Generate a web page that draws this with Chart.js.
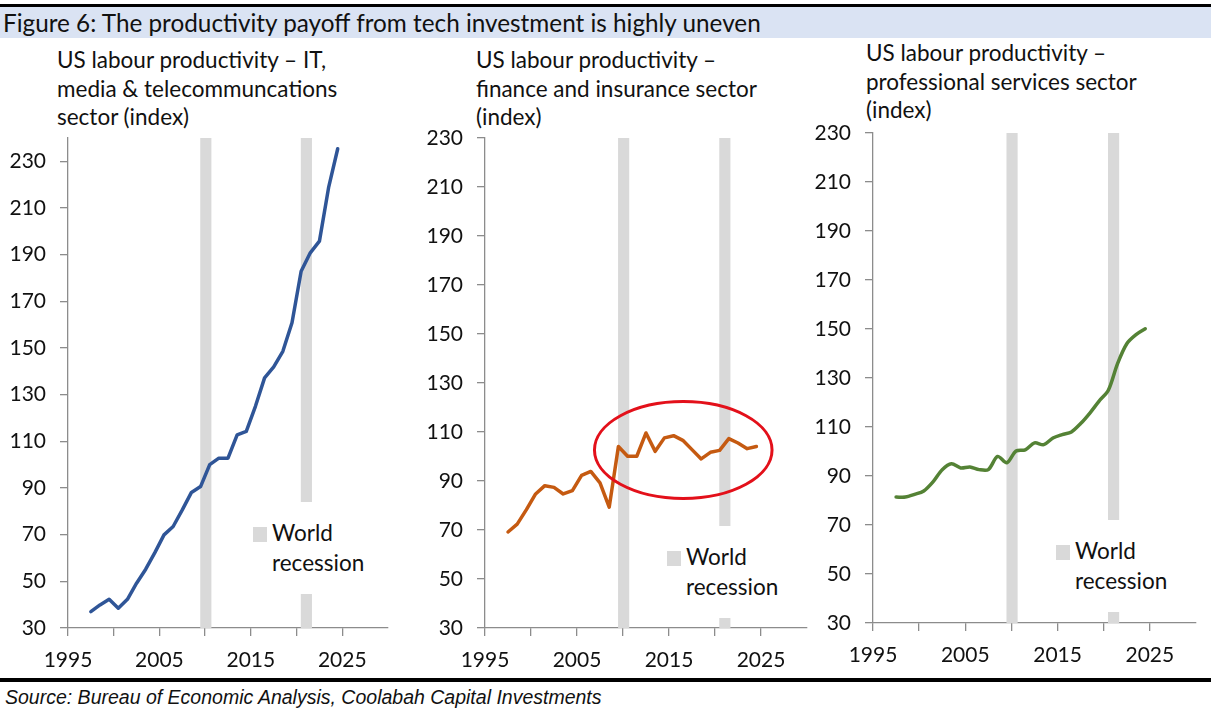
<!DOCTYPE html>
<html>
<head>
<meta charset="utf-8">
<script src="https://cdn.jsdelivr.net/npm/chart.js@4.4.1/dist/chart.umd.min.js"></script>
<style>
  body { margin: 0; width: 1211px; height: 713px; background: #fff; position: relative; overflow: hidden; font-family: Lato, sans-serif; color: #111; }
  .rule { position: absolute; left: 0; width: 1211px; background: #000; }
  .header { position: absolute; left: 0; top: 7px; width: 1208px; height: 31px; padding-left: 3px; background: #dae3f3; font-size: 24.3px; line-height: 31px; }
  .title { position: absolute; font-size: 22.5px; line-height: 28.5px; }
  .panel { position: absolute; }
  .legend { position: absolute; background: #fff; width: 133px; height: 92px; font-size: 22.5px; line-height: 30px; }
  .legend i { position: absolute; left: 8px; top: 25px; width: 14px; height: 15px; background: #d9d9d9; }
  .legend span { position: absolute; left: 27px; top: 16px; }
  .source { position: absolute; left: 5px; top: 686px; font-size: 19.5px; font-style: italic; font-family: "Liberation Sans", Arial, sans-serif; }
</style>
</head>
<body>

<div class="rule" style="top:4px;height:3px"></div>
<div class="header">Figure 6: The productivity payoff from tech investment is highly uneven</div>

<div class="title" style="left:57px;top:46px">US labour productivity – IT,<br>media &amp; telecommuncations<br>sector (index)</div>
<div class="title" style="left:476px;top:46px">US labour productivity –<br>finance and insurance sector<br>(index)</div>
<div class="title" style="left:866px;top:39px">US labour productivity –<br>professional services sector<br>(index)</div>

<div class="panel" style="left:0;top:130px"><canvas id="itChart" width="400" height="552"></canvas></div>
<div class="panel" style="left:410px;top:130px"><canvas id="finChart" width="400" height="552"></canvas></div>
<div class="panel" style="left:800px;top:125px"><canvas id="proChart" width="411" height="550"></canvas></div>

<div class="legend" style="left:245px;top:502px"><i></i><span>World<br>recession</span></div>
<div class="legend" style="left:659px;top:526px"><i></i><span>World<br>recession</span></div>
<div class="legend" style="left:1048px;top:520px"><i></i><span>World<br>recession</span></div>

<div class="rule" style="top:678px;height:4px"></div>
<div class="source">Source: Bureau of Economic Analysis, Coolabah Capital Investments</div>

<script>
// annual data, 1997-2024 (index)
var years = [1997, 1998, 1999, 2000, 2001, 2002, 2003, 2004, 2005, 2006, 2007, 2008, 2009, 2010,
             2011, 2012, 2013, 2014, 2015, 2016, 2017, 2018, 2019, 2020, 2021, 2022, 2023, 2024];

var itValues = [37.0, 39.9, 42.3, 38.5, 42.3, 49.2, 55.2, 62.3, 69.9, 73.5, 80.6, 88.1, 90.6, 100.0,
                102.8, 102.8, 112.8, 114.3, 125.0, 137.2, 141.9, 148.6, 160.8, 182.9, 190.8, 195.8, 218.7, 235.4];

var finValues = [69.2, 72.4, 78.3, 84.7, 88.1, 87.4, 84.7, 86.1, 92.3, 93.9, 89.2, 79.3, 104.1, 100.1,
                 100.1, 109.6, 102.1, 107.6, 108.5, 106.6, 102.8, 99.0, 101.7, 102.5, 107.3, 105.5, 103.2, 104.1];

var proValues = [81.4, 81.4, 82.5, 83.9, 87.6, 92.6, 95.0, 93.3, 93.7, 92.6, 92.6, 98.0, 95.4, 100.2,
                 100.7, 103.5, 102.8, 105.5, 106.9, 108.0, 111.4, 115.7, 120.6, 125.0, 135.9, 144.0, 147.7, 150.1];

var recessionYears = [2009, 2020];

var xTickMarks = [1995, 2000, 2005, 2010, 2015, 2020, 2025];
var xTickLabels = [1995, 2005, 2015, 2025];
var yTicks = [30, 50, 70, 90, 110, 130, 150, 170, 190, 210, 230];

// ring drawn round the post-2009 plateau in the finance panel
var finRing = { x0: 2006.9, x1: 2026.2, y0: 82.9, y1: 122.4 };

var axisColor = '#8c8c8c';
var tickFont = { family: 'Lato', size: 21 };

function yearSlots() {
  var out = [];
  for (var y = 1995; y < 2030; y++) out.push(y);
  return out;
}

var ringPlugin = {
  id: 'ring',
  afterDatasetsDraw: function(chart, args, opts) {
    if (!opts.box) return;
    var b = opts.box;
    var xs = chart.scales.x, ys = chart.scales.y;
    var l = xs.getPixelForValue(b.x0), r = xs.getPixelForValue(b.x1);
    var t = ys.getPixelForValue(b.y1), bt = ys.getPixelForValue(b.y0);
    var ctx = chart.ctx;
    ctx.save();
    ctx.beginPath();
    ctx.ellipse((l + r) / 2, (t + bt) / 2, (r - l) / 2, (bt - t) / 2, 0, 0, Math.PI * 2);
    ctx.strokeStyle = '#e3101a';
    ctx.lineWidth = 3;
    ctx.stroke();
    ctx.restore();
  }
};

function makeChart(id, values, color, yMax, yWidth, xHeight, padRight, tension, ring) {
  var slots = yearSlots();
  var lineData = [];
  for (var i = 0; i < years.length; i++) {
    lineData.push({ x: years[i] + 0.5, y: values[i] });
  }
  var barData = slots.map(function(y) {
    return recessionYears.indexOf(y) >= 0 ? yMax : null;
  });

  var ctx = document.getElementById(id).getContext('2d');
  return new Chart(ctx, {
    data: {
      labels: slots,
      datasets: [{
        type: 'line',
        data: lineData,
        xAxisID: 'x',
        borderColor: color,
        borderWidth: 3.5,
        pointRadius: 0,
        tension: tension,
        borderJoinStyle: 'round',
        borderCapStyle: 'round'
      }, {
        type: 'bar',
        data: barData,
        xAxisID: 'xb',
        backgroundColor: '#d9d9d9',
        barThickness: 10.5
      }]
    },
    options: {
      responsive: false,
      animation: false,
      layout: { padding: { top: 8, right: padRight, left: 0, bottom: 0 } },
      plugins: { legend: { display: false }, tooltip: { enabled: false }, ring: { box: ring } },
      scales: {
        x: {
          type: 'linear',
          min: 1995, max: 2030,
          afterFit: function(s) { s.height = xHeight; s.paddingLeft = 0; s.paddingRight = 0; },
          afterBuildTicks: function(s) { s.ticks = xTickMarks.map(function(v) { return { value: v }; }); },
          border: { color: axisColor, width: 1.3 },
          grid: { drawOnChartArea: false, tickLength: 8, color: axisColor, lineWidth: 1.3 },
          ticks: {
            autoSkip: false, maxRotation: 0, padding: 12, color: '#111', font: tickFont,
            callback: function(v) { return xTickLabels.indexOf(v) >= 0 ? String(v) : ''; }
          }
        },
        xb: { type: 'category', offset: true, display: false },
        y: {
          min: 30, max: yMax,
          afterFit: function(s) { s.width = yWidth; s.paddingTop = 0; s.paddingBottom = 0; },
          afterBuildTicks: function(s) { s.ticks = yTicks.map(function(v) { return { value: v }; }); },
          border: { color: axisColor, width: 1.3 },
          grid: { drawOnChartArea: false, tickLength: 8, color: axisColor, lineWidth: 1.3 },
          ticks: { padding: 14, color: '#111', font: tickFont }
        }
      }
    },
    plugins: [ringPlugin]
  });
}

makeChart('itChart', itValues, '#2f5597', 240, 68, 54, 12, 0, null);
makeChart('finChart', finValues, '#c55a11', 230, 75, 54, 3, 0, finRing);
makeChart('proChart', proValues, '#548235', 230, 73, 52, 15, 0.3, null);
</script>
</body>
</html>
